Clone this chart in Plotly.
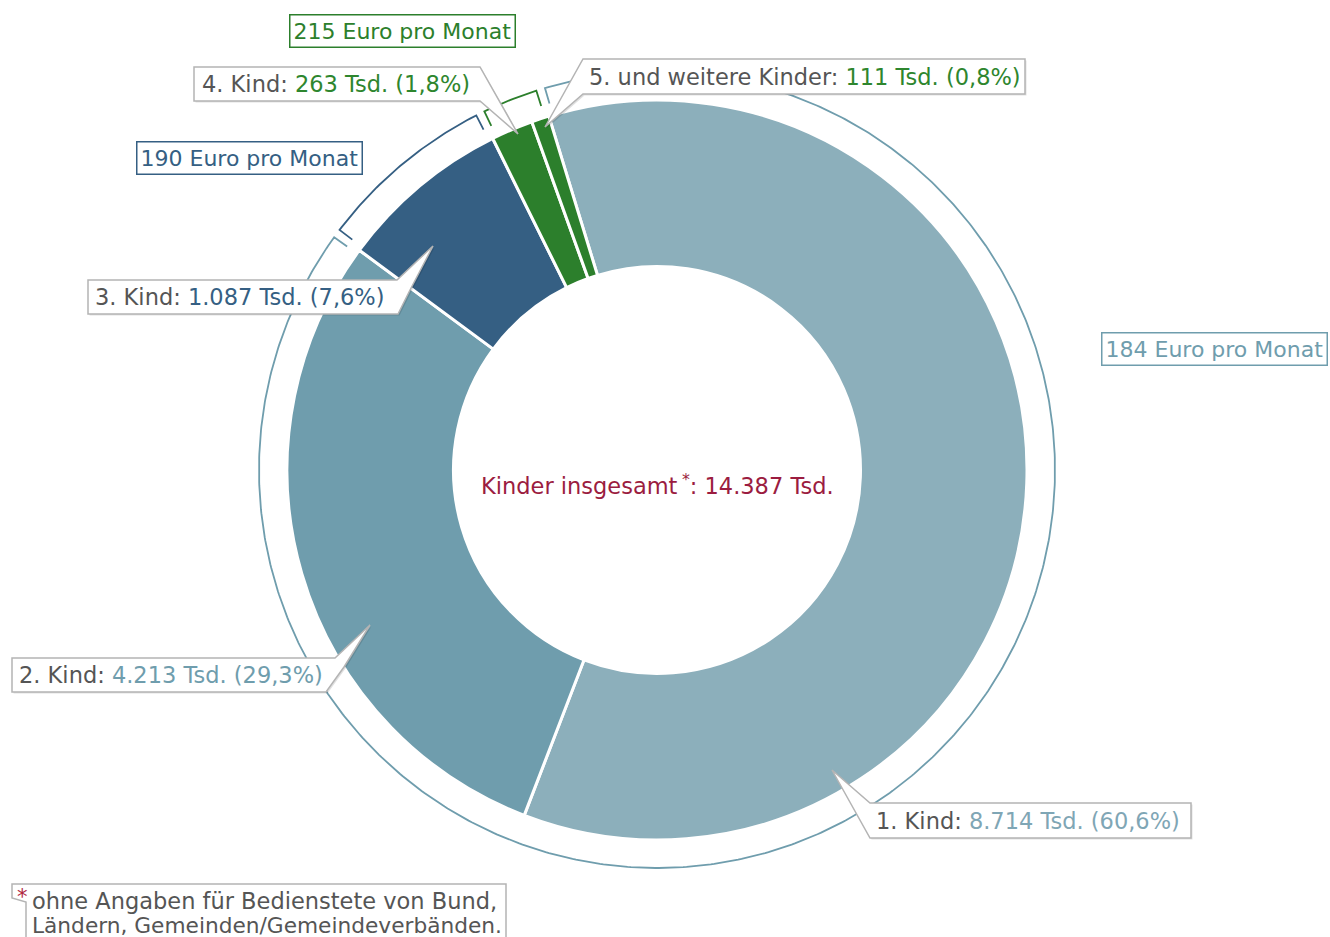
import math
import plotly.graph_objects as go

# ---------------- data ----------------
categories = ["1. Kind", "2. Kind", "3. Kind", "4. Kind", "5. und weitere Kinder"]
values_tsd = [8714, 4213, 1087, 263, 111]
value_labels = ["8.714 Tsd.", "4.213 Tsd.", "1.087 Tsd.", "263 Tsd.", "111 Tsd."]
pct_labels = ["(60,6%)", "(29,3%)", "(7,6%)", "(1,8%)", "(0,8%)"]
total_label = "14.387 Tsd."
group_labels = ["184 Euro pro Monat", "190 Euro pro Monat", "215 Euro pro Monat"]
group_members = [[0, 1], [2], [3, 4]]
footnote = ["ohne Angaben für Bedienstete von Bund,", "Ländern, Gemeinden/Gemeindeverbänden."]

# ---------------- style ----------------
W, H = 1330, 937
CX, CY, R = 657, 470, 370
HOLE = 0.55
ROT = -17
slice_colors = ["#8cafbb", "#6f9dad", "#355f83", "#2c7f2c", "#2c7f2c"]
value_colors = ["#7fa6b5", "#6f9dad", "#355f83", "#2e862e", "#2e862e"]
group_colors = ["#6f9dad", "#355f83", "#2c7f2c"]
TXT = "#555555"
CRIMSON = "#9b1c40"
FONT = "DejaVu Sans"
FS = 22.5
FS_BOX = 22

fig = go.Figure()

# outer bracket ring computed from the data
total = sum(values_tsd)
cum = [0]
for v in values_tsd:
    cum.append(cum[-1] + v)


def pt(angle_deg, r):
    a = math.radians(angle_deg)
    return CX + r * math.sin(a), CY - r * math.cos(a)


R_OUT, R_IN, INSET = 398, 382, 0.65
for gi, members in enumerate(group_members):
    a0 = ROT + 360 * cum[members[0]] / total + INSET
    a1 = ROT + 360 * cum[members[-1] + 1] / total - INSET
    xs, ys = [], []
    x, y = pt(a0, R_IN); xs.append(x); ys.append(y)
    n = max(4, int((a1 - a0) * 2))
    for k in range(n + 1):
        x, y = pt(a0 + (a1 - a0) * k / n, R_OUT)
        xs.append(x); ys.append(y)
    x, y = pt(a1, R_IN); xs.append(x); ys.append(y)
    fig.add_trace(go.Scatter(x=xs, y=ys, mode="lines", hoverinfo="skip",
                             line=dict(color=group_colors[gi], width=1.8),
                             showlegend=False))

# donut
fig.add_trace(go.Pie(
    labels=categories, values=values_tsd, sort=False, direction="clockwise",
    rotation=ROT, hole=HOLE, textinfo="none",
    marker=dict(colors=slice_colors, line=dict(color="white", width=3)),
    domain=dict(x=[(CX - R) / W, (CX + R) / W],
                y=[1 - (CY + R) / H, 1 - (CY - R) / H]),
    showlegend=False, hovertemplate="%{label}: %{value} Tsd.<extra></extra>"))

shapes = []
annotations = []


def poly(points):
    return "M " + " L ".join(f"{x},{y}" for x, y in points) + " Z"


# callouts: (index, polygon, text x, text y)
callouts = [
    (0, [(832, 770), (870, 803), (1191, 803), (1191, 838), (870, 838)], 874, 821),
    (1, [(12, 658), (335, 658), (370, 625), (344, 667), (326, 692), (12, 692)], 17, 675),
    (2, [(88, 280), (397, 280), (433, 246), (409, 292), (398, 314), (88, 314)], 93, 297),
    (3, [(194, 67), (480, 67), (518, 134), (480, 101), (194, 101)], 200, 84),
    (4, [(545, 127), (583, 59), (1025, 59), (1025, 94), (583, 94)], 587, 77),
]
for idx, pts, tx, ty in callouts:
    shadow = [(x + 1.5, y + 1.5) for x, y in pts]
    shapes.append(dict(type="path", path=poly(shadow), xref="x", yref="y", layer="above",
                       fillcolor="rgba(0,0,0,0.12)", line=dict(width=0)))
    shapes.append(dict(type="path", path=poly(pts), xref="x", yref="y", layer="above",
                       fillcolor="white", line=dict(color="#b4b4b4", width=1.5)))
    annotations.append(dict(
        x=tx, y=ty, xref="x", yref="y", xanchor="left", yanchor="middle", showarrow=False,
        text=f"{categories[idx]}: <span style='color:{value_colors[idx]}'>{value_labels[idx]} {pct_labels[idx]}</span>",
        font=dict(family=FONT, size=FS, color=TXT)))

# group label boxes
group_pos = [(1214, 349), (249, 158), (402, 31)]
for gi, (gx, gy) in enumerate(group_pos):
    annotations.append(dict(
        x=gx, y=gy, xref="x", yref="y", xanchor="center", yanchor="middle", showarrow=False,
        text=group_labels[gi], font=dict(family=FONT, size=FS_BOX, color=group_colors[gi]),
        bordercolor=group_colors[gi], borderwidth=1.5, borderpad=3, bgcolor="white"))

# centre text
annotations.append(dict(
    x=CX, y=484, xref="x", yref="y", xanchor="center", yanchor="middle", showarrow=False,
    text=f"Kinder insgesamt\u2009<sup>*</sup>: {total_label}",
    font=dict(family=FONT, size=FS, color=CRIMSON)))

# footnote
shapes.append(dict(type="path", xref="x", yref="y", layer="above",
                   path=poly([(12, 884), (506, 884), (506, 945), (26, 945), (26, 902), (12, 898)]),
                   fillcolor="white", line=dict(color="#b4b4b4", width=1.5)))
annotations.append(dict(x=15, y=897, xref="x", yref="y", xanchor="left", yanchor="middle",
                        showarrow=False, text="*", font=dict(family=FONT, size=21, color="#b0283f")))
foot_sizes = [22.5, 21.7]
for li, line in enumerate(footnote):
    annotations.append(dict(x=30, y=901 + 24 * li, xref="x", yref="y", xanchor="left",
                            yanchor="middle", showarrow=False, text=line,
                            font=dict(family=FONT, size=foot_sizes[li], color=TXT)))

fig.update_layout(
    width=W, height=H, margin=dict(l=0, r=0, t=0, b=0),
    paper_bgcolor="white", plot_bgcolor="white",
    xaxis=dict(range=[0, W], visible=False, fixedrange=True),
    yaxis=dict(range=[H, 0], visible=False, fixedrange=True),
    shapes=shapes, annotations=annotations, showlegend=False)

fig.write_html("out.html", config={"displayModeBar": False},
               post_script="document.body.style.margin='0px';document.body.style.overflow='hidden';")
